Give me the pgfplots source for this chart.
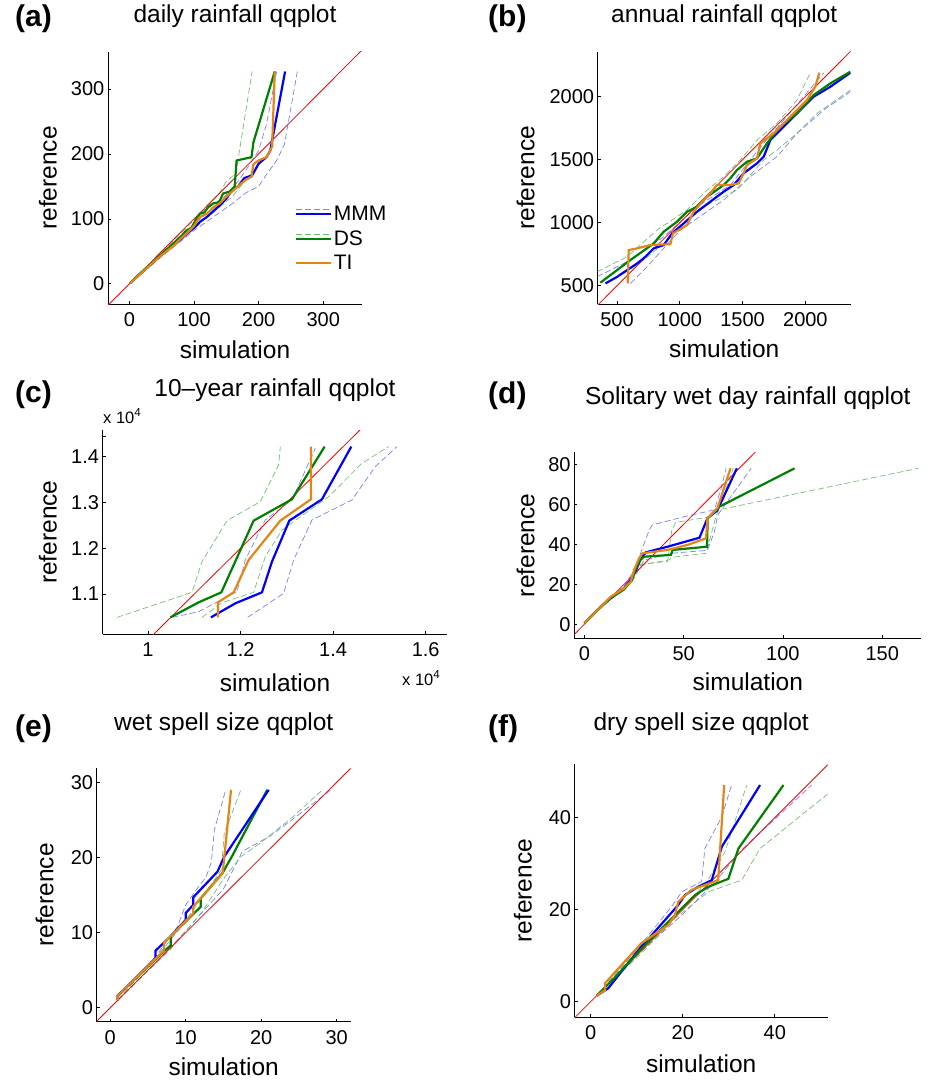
\documentclass[border=0pt]{standalone}
\usepackage{fontspec}
\setmainfont{Liberation Sans}
\usepackage{pgfplots}
\pgfplotsset{compat=1.18}

\definecolor{mmm}{RGB}{0,0,255}
\definecolor{mmmlt}{RGB}{125,125,255}
\definecolor{ds}{RGB}{0,128,0}
\definecolor{dslt}{RGB}{115,190,115}
\definecolor{ti}{RGB}{228,133,22}

\pgfplotsset{
  qq/.style={
    scale only axis, anchor=south west,
    axis lines=left,
    axis line style={-, line width=0.9pt, black},
    tick align=inside, major tick length=3pt,
    tick style={black, line width=0.8pt},
    tick label style={font=\fontsize{20}{24}\selectfont},
    xticklabel style={inner sep=0pt, yshift=-8.5pt},
    yticklabel style={inner sep=0pt, xshift=-3.5pt},
    /pgf/number format/assume math mode=true,
    /pgf/number format/1000 sep={},
    label style={font=\fontsize{24.5}{29}\selectfont},
    title style={font=\fontsize{24.5}{29}\selectfont},
    xlabel={simulation}, ylabel={reference},
  },
  env/.style={line width=0.7pt, dash pattern=on 6pt off 3pt, forget plot},
  envm/.style={env, mmmlt},
  envd/.style={env, dslt},
  diag/.style={red, line width=0.8pt, forget plot},
  solm/.style={mmm, line width=2.2pt},
  sold/.style={ds, line width=2.2pt},
  solt/.style={ti, line width=2.2pt},
  place/.style n args={4}{
    title style={at={(axis description cs:0.5,#1)}, anchor=base},
    xlabel style={at={(axis description cs:0.5,#2)}, anchor=base},
    ylabel style={at={(axis description cs:#3,0.5)}, anchor=base},
  },
}

\begin{document}
\begin{tikzpicture}
\useasboundingbox (0,0) rectangle (941pt,-1086pt);

% (a) daily rainfall
\begin{axis}[qq, at={(108pt,-304pt)}, width=254pt, height=252pt,
  xmin=-33, xmax=360, ymin=-31, ymax=357,
  xtick={0,100,200,300}, ytick={0,100,200,300},
  title={daily rainfall qqplot}, place={1.094}{-0.2155}{-0.202},
  legend style={at={(axis description cs:0.722,0.405)}, anchor=north west,
    draw=none, fill=none, font=\fontsize{21}{25}\selectfont,
    row sep=4.5pt, nodes={inner sep=2pt}},
  legend cell align=left]
\addplot[envm] coordinates {(1,1) (50,47) (100,92) (130,117) (150,137) (170,160) (185,182) (200,205) (212,245) (228,327)};
\addplot[envm] coordinates {(1,1) (50,42) (100,82) (130,103) (160,124) (180,140) (200,150) (212,168) (228,190) (240,215) (260,327)};
\addplot[envd] coordinates {(1,1) (50,48) (100,98) (120,118) (140,140) (150,158) (165,170) (168,190) (190,327)};
\addplot[envd] coordinates {(1,1) (50,44) (100,88) (130,110) (160,135) (190,172) (212,196) (222,212) (224,327)};
\addplot[diag] coordinates {(-100,-100) (500,500)};
\addplot[solm, legend image code/.code={
    \draw[mmmlt, line width=0.7pt, dash pattern=on 6pt off 3pt] (0pt,4.5pt) -- (35pt,4.5pt);
    \draw[mmm, line width=2.2pt] (0pt,0pt) -- (35pt,0pt);}]
  coordinates {(1,1) (10,9) (20,18) (30,27) (40,36) (50,45) (60,53) (70,61) (80,69) (90,78) (100,86) (110,96) (120,103) (130,112) (140,121) (150,131) (158,143) (168,150) (178,163) (190,167) (200,185) (212,195) (218,205) (241,327)};
\addlegendentry{MMM}
\addplot[sold, legend image code/.code={
    \draw[dslt, line width=0.7pt, dash pattern=on 6pt off 3pt] (0pt,4.5pt) -- (35pt,4.5pt);
    \draw[ds, line width=2.2pt] (0pt,0pt) -- (35pt,0pt);}]
  coordinates {(1,1) (10,10) (20,19) (30,28) (40,37) (50,46) (60,55) (70,64) (80,73) (88,82) (96,86) (102,97) (109,108) (116,110) (122,118) (130,124) (136,125) (140,128) (145,139) (155,142) (163,150) (166,190) (189,195) (192,218) (225,327)};
\addlegendentry{DS}
\addplot[solt, legend image code/.code={\draw[ti, line width=2.2pt] (0pt,0pt) -- (35pt,0pt);}]
  coordinates {(1,1) (10,9) (20,18) (30,27) (40,36) (50,44) (60,52) (70,60) (80,70) (90,79) (100,89) (109,103) (120,108) (130,118) (140,124) (150,134) (160,143) (170,152) (180,160) (189,165) (192,184) (200,190) (212,195) (218,205) (221,212) (225,327)};
\addlegendentry{TI}
\end{axis}

% (b) annual rainfall
\begin{axis}[qq, at={(597.7pt,-304pt)}, width=253pt, height=252.3pt,
  xmin=346, xmax=2361, ymin=355, ymax=2357,
  xtick={500,1000,1500,2000}, ytick={500,1000,1500,2000},
  title={annual rainfall qqplot}, place={1.0927}{-0.214}{-0.2506}]
\addplot[envm] coordinates {(341,571) (606,704) (872,889) (1137,1127) (1402,1299) (1561,1497) (1668,1630) (1827,1815) (1986,2000) (2146,2190)};
\addplot[envm] coordinates {(606,518) (739,651) (1004,942) (1349,1180) (1561,1365) (1774,1524) (1933,1709) (2146,1894) (2358,2040)};
\addplot[envd] coordinates {(341,611) (580,730) (819,942) (1057,1101) (1217,1259) (1349,1365) (1482,1497) (1615,1656) (1774,1788) (1933,1974) (2040,2190)};
\addplot[envd] coordinates {(553,598) (712,704) (872,836) (1137,1101) (1455,1259) (1668,1497) (1774,1577) (1933,1709) (2093,1868) (2358,2053)};
\addplot[diag] coordinates {(0,0) (3000,3000)};
\addplot[solm] coordinates {(407,518) (500,570) (580,624) (650,670) (712,717) (792,796) (872,823) (938,915) (1031,995) (1137,1087) (1243,1167) (1349,1246) (1429,1299) (1508,1392) (1615,1471) (1668,1524) (1721,1656) (1827,1762) (1933,1868) (2066,2000) (2199,2079) (2358,2190)};
\addplot[sold] coordinates {(367,524) (500,624) (606,704) (700,770) (792,836) (872,929) (978,1008) (1057,1087) (1137,1127) (1217,1206) (1349,1299) (1402,1352) (1455,1418) (1535,1484) (1615,1511) (1694,1630) (1800,1762) (1933,1868) (2066,2013) (2199,2106) (2358,2198)};
\addplot[solt] coordinates {(585,518) (593,783) (659,796) (766,823) (925,830) (945,915) (1057,981) (1110,1087) (1190,1180) (1243,1233) (1296,1299) (1402,1299) (1469,1312) (1508,1392) (1535,1458) (1615,1511) (1641,1630) (1747,1709) (1827,1788) (1933,1894) (2013,1974) (2079,2079) (2111,2190)};
\end{axis}

% (c) 10-year rainfall
\begin{axis}[qq, at={(102.7pt,-634.3pt)}, width=344.6pt, height=204.3pt,
  xmin=9020, xmax=16467, ymin=10120, ymax=14580,
  scaled ticks=false,
  xtick={10000,12000,14000,16000}, xticklabels={1,1.2,1.4,1.6},
  ytick={11000,12000,13000,14000}, yticklabels={1.1,1.2,1.3,1.4},
  extra y ticks={14440}, extra y tick labels={},
  title={10\textendash year rainfall qqplot}, place={1.1356}{-0.281}{-0.1335}]
\addplot[envm] coordinates {(10518,10490) (11094,10614) (11922,11051) (12102,11742) (12534,12616) (13110,13052) (13614,14180)};
\addplot[envm] coordinates {(12153,10490) (12930,11015) (13146,11742) (13542,12616) (14406,13052) (14910,13780) (15378,14217)};
\addplot[envd] coordinates {(9330,10490) (10950,11036) (11166,11706) (11706,12601) (12426,13016) (12822,13817) (12858,14217)};
\addplot[envd] coordinates {(11166,10490) (11598,10810) (12282,11036) (12534,11815) (12894,12397) (13902,13125) (14622,13853) (15198,14217)};
\addplot[diag] coordinates {(9000,9000) (16000,16000)};
\addplot[solm] coordinates {(11360,10490) (11886,10796) (12462,11036) (12678,11706) (13053,12601) (13758,13067) (14392,14217)};
\addplot[sold] coordinates {(10482,10490) (11094,10818) (11584,11036) (11898,11740) (12282,12601) (13110,13067) (13816,14217)};
\addplot[solt] coordinates {(11512,10490) (11512,10818) (11850,11036) (12174,11742) (12858,12601) (13520,13067) (13520,14217)};
\end{axis}

% (d) solitary wet day rainfall
\begin{axis}[qq, at={(574.3pt,-638.3pt)}, width=347pt, height=186pt,
  xmin=-5.05, xmax=169.7, ymin=-7, ymax=86,
  xtick={0,50,100,150}, ytick={0,20,40,60,80},
  title={Solitary wet day rainfall qqplot}, place={1.2237}{-0.2817}{-0.1153}]
\addplot[envm] coordinates {(0,0.5) (13,13.5) (20,19) (25,27) (30,40) (32.7,47.2) (34.3,49.7) (50.3,53.8) (65.5,57.2) (68.9,68) (71.4,78)};
\addplot[envm] coordinates {(0,0.5) (13,12.5) (20,17) (26,25) (30,32) (43.6,35.5) (62,37) (65.5,46.3) (67.2,54.7) (84,78)};
\addplot[envd] coordinates {(0,0.5) (13,13) (20,18) (25,25) (28,30) (42,31.5) (44,47) (46,51) (62,53.5) (69,57.5) (168.2,78)};
\addplot[envd] coordinates {(0,0.5) (13,12.5) (20,17) (25,23) (28.5,29.7) (42.8,32.2) (44,33.5) (61.3,35.5) (63.8,44.7) (66,53) (75,78)};
\addplot[diag] coordinates {(-10,-10) (200,200)};
\addplot[solm] coordinates {(0,0.5) (8.2,8.8) (13.3,13) (20,18) (24,23) (26,27) (28.5,33) (31,36) (41.9,38.8) (58,43.3) (62,53) (67,57) (76.8,78)};
\addplot[sold] coordinates {(0,0.5) (8,8.3) (13,13) (20,17.5) (24,22) (26,28) (28,32) (30.1,33.8) (43.6,34.7) (44.5,37.2) (61.8,38.8) (62.1,53) (68,58.8) (105.9,78)};
\addplot[solt] coordinates {(0,0.5) (8,8.5) (13.3,13.8) (20,18) (23.4,21.3) (25,27) (27.6,33) (29.3,35.5) (41.9,37.2) (52,39.7) (61.3,43) (62,53) (67,58) (73.6,78)};
\end{axis}

% (e) wet spell size
\begin{axis}[qq, at={(96.7pt,-1021.7pt)}, width=254pt, height=253.4pt,
  xmin=-1.8, xmax=31.86, ymin=-1.86, ymax=31.86,
  xtick={0,10,20,30}, ytick={0,10,20,30},
  title={wet spell size qqplot}, place={1.1247}{-0.2103}{-0.1709}]
\addplot[envm] coordinates {(1,1) (6,6.8) (8.9,10.8) (10,13.7) (11.4,15.7) (12.7,17.4) (13.4,19.4) (13.8,23.7) (15.3,29)};
\addplot[envm] coordinates {(1,1) (8,8) (12,12.5) (15,15.8) (17.5,20.8) (21.1,22.8) (24.6,25.4) (29.5,29.2)};
\addplot[envd] coordinates {(1,1) (8,9) (11,13) (14.7,18.3) (15.1,23.2) (17.3,29)};
\addplot[envd] coordinates {(1,1) (8,7.8) (12.2,12.8) (14.9,17) (17.3,20.1) (20,22) (24.2,25.4) (27.9,28.8)};
\addplot[diag] coordinates {(-5,-5) (40,40)};
\addplot[sold] coordinates {(1,1) (1,1.6) (7,7.4) (8,8.3) (8,9.5) (12,13.45) (12,14.56) (14.9,17.98) (16.1,20.1) (20.8,29)};
\addplot[solm] coordinates {(1,1) (1,1.6) (6,6.6) (6,7.6) (8,9.5) (10,11.7) (10,12.6) (11,13.7) (11,14.7) (14.2,18.1) (15.1,20.1) (21,29)};
\addplot[solt] coordinates {(1,1) (1,1.6) (7.1,7.6) (7.1,8.6) (11,12.56) (11,13.45) (14.9,17.9) (16,29)};
\end{axis}

% (f) dry spell size
\begin{axis}[qq, at={(574.7pt,-1017.3pt)}, width=253pt, height=253pt,
  xmin=-3.48, xmax=51.5, ymin=-3.4, ymax=51.6,
  xtick={0,20,40}, ytick={0,20,40},
  title={dry spell size qqplot}, place={1.109}{-0.219}{-0.170}]
\addplot[envm] coordinates {(1.3,1.3) (11,12.5) (17.6,20.7) (19.8,23.9) (24.1,26.1) (24.8,33.3) (28.5,40.2) (30.6,47.1)};
\addplot[envm] coordinates {(1.3,1.3) (11,11) (20,19) (27,26) (32.8,33) (48,47.1)};
\addplot[envd] coordinates {(1.3,1.3) (11,12) (17,17.5) (24.8,25.4) (29.2,32.6) (33.9,47.1)};
\addplot[envd] coordinates {(1.3,1.3) (11,10.5) (18.3,18.1) (25.6,23.9) (32.8,26.4) (36.8,33.3) (51.7,45.3)};
\addplot[diag] coordinates {(-5,-5) (60,60)};
\addplot[solm] coordinates {(1.3,1.3) (3.8,2.9) (11,12) (13.3,14.5) (19,21) (20.5,23.2) (23.4,25) (26.3,26.4) (28.5,33.7) (36.8,47.1)};
\addplot[sold] coordinates {(1.3,1.3) (5,5) (11,11.5) (16.9,17.4) (22.7,23.2) (25.6,25) (29.9,26.7) (32.1,33.3) (41.9,47.1)};
\addplot[solt] coordinates {(1.3,1.3) (3.1,2.5) (3.1,4) (11,12.7) (16.9,16.7) (18.3,18.8) (19,21.7) (21.9,24.3) (27.7,26.4) (29,47.1)};
\end{axis}

% panel letters and the x 10^4 multipliers of (c)
\begin{scope}[every node/.style={anchor=base west, inner sep=0pt}]
\node[font=\fontsize{30}{36}\selectfont\bfseries] at (15pt,-27pt) {(a)};
\node[font=\fontsize{30}{36}\selectfont\bfseries] at (488pt,-27pt) {(b)};
\node[font=\fontsize{30}{36}\selectfont\bfseries] at (15pt,-402pt) {(c)};
\node[font=\fontsize{30}{36}\selectfont\bfseries] at (488pt,-403pt) {(d)};
\node[font=\fontsize{30}{36}\selectfont\bfseries] at (15pt,-736pt) {(e)};
\node[font=\fontsize{30}{36}\selectfont\bfseries] at (488pt,-736pt) {(f)};
\node[font=\fontsize{16.5}{20}\selectfont] at (103pt,-423pt) {x 10\textsuperscript{4}};
\node[font=\fontsize{16.5}{20}\selectfont] at (402pt,-685pt) {x 10\textsuperscript{4}};
\end{scope}
\end{tikzpicture}
\end{document}
